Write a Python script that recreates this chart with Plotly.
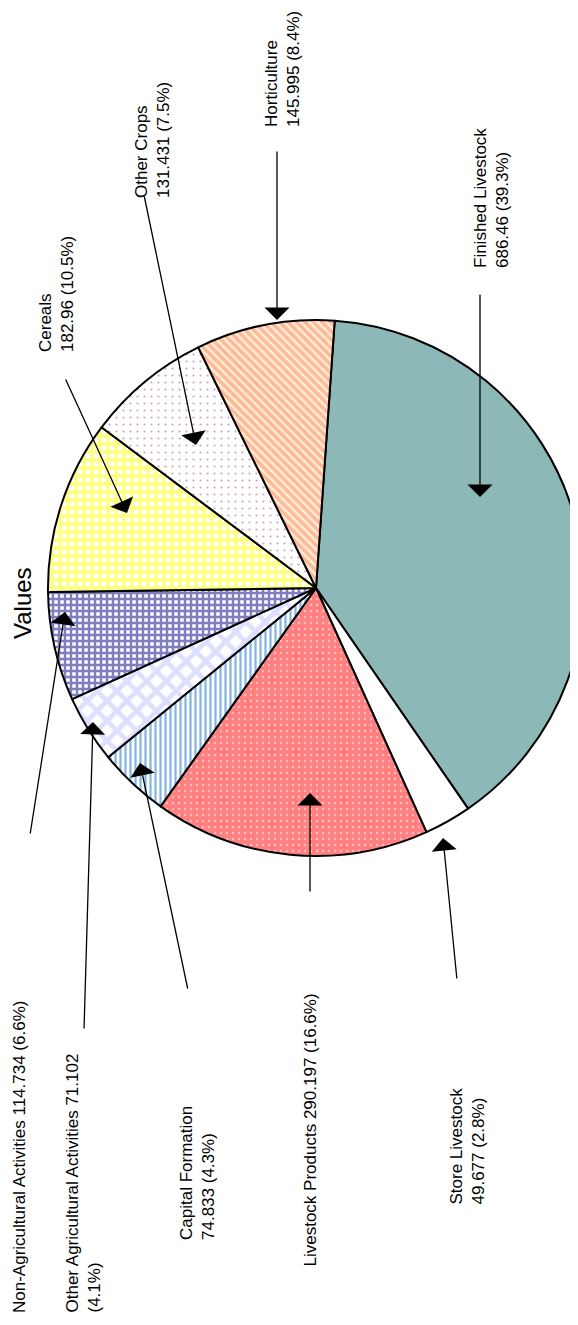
import plotly.graph_objects as go

# ---- data ----
categories = ["Finished Livestock", "Store Livestock", "Livestock Products",
              "Capital Formation", "Other Agricultural Activities",
              "Non-Agricultural Activities", "Cereals", "Other Crops", "Horticulture"]
values = [686.46, 49.677, 290.197, 74.833, 71.102, 114.734, 182.96, 131.431, 145.995]
# how each label is broken into lines: "nv" = name / value, "one" = single line, "v2" = name value / pct
label_style = ["nv", "nv", "one", "nv", "v2", "one", "nv", "nv", "nv"]

# ---- styles ----
W, H = 578, 1325
PAGE_OFF = 8  # default body margin of the html page
FONT = "Liberation Sans, Arial, sans-serif"


def px(x):
    return (x - PAGE_OFF) / W


def py(y):
    return 1 - (y - PAGE_OFF) / H


fills = ["#8db8b8", "#ffffff", "#ff8080", "#ffffff", "#ffffff",
         "#ffffff", "#ffffff", "#ffffff", "#fff2d0"]
pat_shape = ["", "", ".", "|", "x", "+", "+", ".", "\\"]
pat_fg = ["#8db8b8", "#ffffff", "#ffffff", "#0a6ccc", "#bdbdff",
          "#000080", "#ffff00", "#a0487a", "#ff7c6c"]
pat_size = [8, 8, 6, 5, 14, 6, 8, 7, 6]
pat_sol = [0.2, 0.2, 0.12, 0.45, 0.55, 0.65, 0.65, 0.08, 0.6]

# label placement in page pixels: (centre x of box, bottom y of box)
label_pos = [(491, 270), (467, 1207), (310, 1269), (197, 1242), (83, 1315),
             (19, 1315), (56, 354), (152, 200), (283, 129)]
# arrow tip (x, y) in page pixels and tail offset (dx, dy)
arrow_tip = [(480, 497), (443, 838), (310, 793), (140, 763), (93, 722),
             (65, 612), (127, 513), (196, 445), (277, 320)]
arrow_tail = [(0, -204), (14, 142), (0, 100), (48, 227), (-9, 308),
              (-35, 223), (-62, -135), (-52, -250), (0, -170)]

# pie centre and radius in page pixels
CX, CY, R = 316, 588, 268

total = sum(values)
texts = []
for name, v, st in zip(categories, values, label_style):
    pct = f"{v / total * 100:.1f}"
    if st == "one":
        texts.append(f"{name} {v} ({pct}%)")
    elif st == "v2":
        texts.append(f"{name} {v}<br>({pct}%)")
    else:
        texts.append(f"{name}<br>{v} ({pct}%)")

fig = go.Figure()
fig.add_trace(go.Pie(
    labels=categories, values=values, sort=False, direction="clockwise",
    rotation=4, textinfo="none", hoverinfo="label+value+percent",
    domain=dict(x=[px(CX - R), min(1.0, px(CX + R))], y=[py(CY + R), py(CY - R)]),
    marker=dict(colors=fills,
                line=dict(color="black", width=2),
                pattern=dict(shape=pat_shape, fgcolor=pat_fg, bgcolor=fills,
                             size=pat_size, solidity=pat_sol, fillmode="overlay")),
    showlegend=False,
))

ann = []
for t, (lx, ly) in zip(texts, label_pos):
    ann.append(dict(text=t, x=px(lx), y=py(ly), xref="paper", yref="paper",
                    xanchor="center", yanchor="bottom", textangle=-90, align="left",
                    showarrow=False, font=dict(family=FONT, size=17, color="black")))
for (tx, ty), (dx, dy) in zip(arrow_tip, arrow_tail):
    ann.append(dict(text="", x=px(tx), y=py(ty), xref="paper", yref="paper",
                    ax=dx, ay=dy, axref="pixel", ayref="pixel", showarrow=True,
                    arrowhead=1, arrowsize=3.2, arrowwidth=1.3, arrowcolor="black",
                    standoff=0))
ann.append(dict(text="Values", x=px(22), y=py(603), xref="paper", yref="paper",
                xanchor="center", yanchor="middle", textangle=-90, showarrow=False,
                font=dict(family=FONT, size=24, color="black")))

fig.update_layout(width=W, height=H, margin=dict(l=0, r=0, t=0, b=0),
                  paper_bgcolor="white", plot_bgcolor="white",
                  annotations=ann, font=dict(family=FONT))
fig.write_html("out.html")
